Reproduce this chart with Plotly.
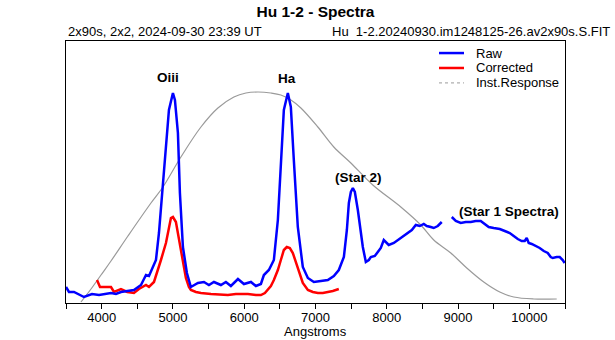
import plotly.graph_objects as go

# Wavelength axis (Angstroms) and relative flux for each spectrum
raw_wl = [3500, 3542, 3612, 3752, 3865, 3963, 4131, 4201, 4271, 4453, 4552, 4622, 4664,
          4720, 4762, 4804, 4860, 4902, 4944, 5000, 5028, 5070, 5098, 5140, 5196, 5252,
          5351, 5435, 5505, 5575, 5673, 5743, 5813, 5912, 5996, 6094, 6164, 6234, 6276,
          6346, 6416, 6472, 6514, 6556, 6612, 6654, 6696, 6752, 6822, 6893, 6935, 6977,
          7075, 7173, 7257, 7327, 7398, 7440, 7468, 7496, 7524, 7552, 7594, 7636, 7664,
          7706, 7748, 7776, 7832, 7874, 7916, 7958, 8000, 8028, 8099, 8155, 8225, 8295,
          8351, 8407, 8463, 8519, 8561, 8617, 8659, 8715, 8771, None,
          8912, 8968, 9038, 9108, 9178, 9248, 9318, 9374, 9430, 9500, 9585, 9655, 9725,
          9781, 9837, 9893, 9935, 9963, 9991, 10033, 10089, 10145, 10202, 10258, 10300,
          10328, 10384, 10426, 10468, 10496]
raw_flux = [16, 11, 11, 6, 9, 8, 10, 9, 11, 13, 18, 28, 27,
            36, 43, 70, 120, 153, 193, 210, 203, 170, 110, 56, 30, 16,
            20, 21, 18, 21, 18, 21, 17, 24, 19, 21, 17, 19, 28,
            33, 43, 83, 143, 193, 210, 196, 143, 76, 36, 25, 23, 21,
            22, 23, 27, 33, 46, 73, 100, 111, 115, 111, 93, 68, 56,
            41, 43, 46, 47, 51, 55, 63, 60, 58, 60, 63, 66, 70,
            73, 78, 77, 79, 77, 76, 75, 77, 81, None,
            86, 82, 80, 81, 81, 82, 82, 79, 76, 75, 74, 72, 70,
            67, 64, 62, 62, 65, 60, 59, 57, 55, 52, 50, 46,
            45, 46, 46, 43, 40]

corr_wl = [3935, 3977, 4033, 4131, 4173, 4271, 4360, 4453, 4523, 4622, 4664, 4734,
           4832, 4902, 4972, 5000, 5042, 5112, 5182, 5224, 5252, 5323, 5393, 5533,
           5673, 5771, 5883, 6052, 6164, 6234, 6290, 6332, 6374, 6416, 6472, 6514,
           6556, 6598, 6640, 6682, 6724, 6766, 6822, 6893, 6963, 7033, 7103, 7173,
           7243, 7327]
corr_flux = [23, 16, 16, 16, 11, 14, 11, 10, 14, 18, 16, 21,
             43, 60, 85, 86, 81, 53, 25, 16, 13, 11, 10, 9,
             8, 8, 9, 9, 8, 8, 10, 13, 17, 23, 33, 43,
             53, 56, 55, 50, 41, 30, 20, 13, 11, 10, 10, 11,
             12, 14]

resp_wl = [3710, 3851, 3991, 4131, 4369, 4692, 4860, 5112, 5393, 5631, 5855, 6024,
           6192, 6374, 6514, 6655, 6795, 7033, 7257, 7496, 7804, 8197, 8477, 8659,
           8898, 9122, 9360, 9585, 9781, 10061, 10384]
resp_flux = [1, 14, 28, 42, 67, 100, 116, 146, 176, 195, 206, 210,
             211, 210, 208, 203, 195, 176, 156, 140, 118, 96, 78, 63,
             50, 35, 21, 11, 6, 4, 4]

x_range = [3500, 10500]
y_range = [0, 262]

line_labels = ["Oiii", "Ha", "(Star 2)", "(Star 1 Spectra)"]
label_wl = [4937, 6598, 7608, 9711]
label_flux = [226, 225, 126, 92]

legend_names = ["Raw", "Corrected", "Inst.Response"]
legend_colors = ["#0000FF", "#FF0000", "#9A9A9A"]
legend_dash = ["solid", "solid", "dot"]
legend_width = [2.5, 2.5, 1]

FONT = "Liberation Sans, Arial, sans-serif"

fig = go.Figure()
fig.add_trace(go.Scatter(x=resp_wl, y=resp_flux, mode="lines", name="Inst.Response",
                         line=dict(color="#9A9A9A", width=1.2, shape="spline"),
                         showlegend=False))
fig.add_trace(go.Scatter(x=corr_wl, y=corr_flux, mode="lines", name="Corrected",
                         line=dict(color="#FF0000", width=2.5), showlegend=False))
fig.add_trace(go.Scatter(x=raw_wl, y=raw_flux, mode="lines", name="Raw",
                         line=dict(color="#0000FF", width=2.5), showlegend=False,
                         connectgaps=False))

# Emission line / star labels
for txt, lx, ly in zip(line_labels, label_wl, label_flux):
    fig.add_annotation(x=lx, y=ly, xref="x", yref="y", text="<b>%s</b>" % txt,
                       showarrow=False, font=dict(family=FONT, size=13.5, color="black"))

# Legend drawn as line samples with text, stacked top-right inside the plot
leg_y = [0.954, 0.897, 0.840]
for name, col, dash, w, yy in zip(legend_names, legend_colors, legend_dash, legend_width, leg_y):
    fig.add_shape(type="line", xref="paper", yref="paper", x0=0.7475, x1=0.7976,
                  y0=yy, y1=yy, line=dict(color=col, width=w, dash=dash))
    fig.add_annotation(x=0.8176, y=yy, xref="paper", yref="paper", text=name,
                       xanchor="left", yanchor="middle", showarrow=False,
                       font=dict(family=FONT, size=13, color="black"))

# Header lines above the plot box
fig.add_annotation(x=0, y=1, xref="paper", yref="paper", xanchor="left", yanchor="bottom",
                   showarrow=False,
                   text="2x90s, 2x2, 2024-09-30 23:39 UT",
                   font=dict(family=FONT, size=13, color="black"))
fig.add_annotation(x=1.094, y=1, xref="paper", yref="paper", xanchor="right", yanchor="bottom",
                   showarrow=False,
                   text="Hu\u00a0 1-2.20240930.im1248125-26.av2x90s.S.FIT",
                   font=dict(family=FONT, size=13, color="black"))

# X axis title below the tick labels
fig.add_annotation(x=0.5, y=-0.107, xref="paper", yref="paper", xanchor="center",
                   yanchor="middle", showarrow=False, text="Angstroms",
                   font=dict(family=FONT, size=13, color="black"))

fig.update_layout(
    width=615, height=340,
    margin=dict(l=66, r=50, t=41, b=37, pad=0),
    paper_bgcolor="white", plot_bgcolor="white",
    font=dict(family=FONT, size=13, color="black"),
    title=dict(text="<b>Hu 1-2 - Spectra</b>", x=0.5, xref="paper", xanchor="center",
               y=1 - 12 / 340, yref="container", yanchor="middle",
               font=dict(family=FONT, size=15.5, color="black")),
    showlegend=False,
)
fig.update_xaxes(range=x_range, showline=True, linecolor="black", linewidth=1, mirror=True,
                 ticks="outside", ticklen=5, tickcolor="black", tick0=0, dtick=1000,
                 tickformat="d", automargin=False, ticklabelstandoff=-3,
                 minor=dict(dtick=500, ticks="outside", ticklen=5, tickcolor="black"),
                 showgrid=False, zeroline=False,
                 tickfont=dict(family=FONT, size=13, color="black"))
fig.update_yaxes(range=y_range, showline=True, linecolor="black", linewidth=1, mirror=True,
                 ticks="", showticklabels=False, showgrid=False, zeroline=False,
                 automargin=False)

fig.write_html("out.html")
